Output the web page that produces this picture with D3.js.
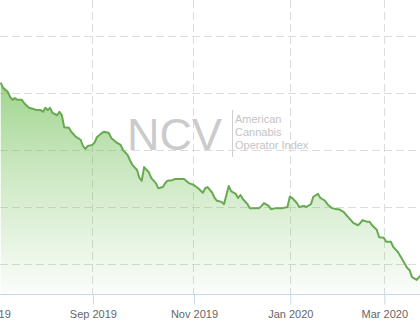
<!DOCTYPE html>
<html>
<head>
<meta charset="utf-8">
<script src="https://cdn.jsdelivr.net/npm/d3@7"></script>
<style>
  html, body { margin: 0; padding: 0; background: #fff; overflow: hidden; }
  svg { display: block; font-family: "Liberation Sans", Arial, sans-serif; }
</style>
</head>
<body>
<svg id="chart" width="420" height="322"></svg>
<script>
// Trading-day index (0 = first trading day of Jul 2019) and index value
const dayIndex = [5,6,8,9,10,11,12,14,15,17,19,20,22,23,24,25,26,27,29,30,31,32,34,35,37,39,40,41,42,44,45,46,48,49,51,52,54,56,57,59,60,61,63,64,65,66,68,69,71,72,74,75,76,78,79,81,83,85,87,89,91,92,93,95,96,97,99,100,102,103,105,106,107,108,110,111,113,115,116,117,119,120,122,123,125,127,128,129,131,132,134,135,137,138,140,141,143,144,146,148,149,151,152,154,155,157,158,159,161,162,163,165,166,168,169,171,172,174,175,176,178,179,180,182,183,184,185];
const values = [51.8,50.9,50.2,49.3,48.8,49.1,48.8,48.8,48.2,47.4,47.2,47.0,47.0,46.7,47.4,47.0,47.4,46.5,46.1,46.7,46.1,44.0,43.9,43.2,42.3,41.8,40.7,40.2,40.7,40.9,41.4,42.3,43.0,43.2,43.0,42.1,41.4,40.9,40.0,39.1,38.2,37.4,36.5,35.1,34.6,37.0,36.1,35.1,34.2,33.3,33.5,34.2,34.6,34.7,34.9,34.9,34.9,34.2,33.9,33.3,32.5,33.3,33.5,32.5,31.6,31.1,30.9,30.5,33.7,32.8,32.3,31.6,32.1,31.4,30.5,29.8,29.8,29.8,30.2,30.7,30.2,29.6,29.8,29.8,29.8,30.0,31.8,31.6,30.7,30.0,30.2,30.0,30.5,31.8,32.3,31.6,31.1,30.5,29.8,29.6,29.6,29.1,28.6,27.7,27.2,26.8,27.2,27.7,27.4,27.4,26.8,26.0,24.7,24.6,23.9,23.9,23.0,22.1,21.4,20.7,19.3,18.9,17.7,17.2,17.7,18.1,18.5];
// Month ticks (trading-day index of first trading day of month)
const tickIndex = [0, 44, 87, 128, 168];
const tickLabels = ["Jul 2019", "Sep 2019", "Nov 2019", "Jan 2020", "Mar 2020"];
const yGridValues = [20, 30, 40, 50, 60, 70];
const watermarkBig = "NCV";
const watermarkLines = ["American", "Cannabis", "Operator Index"];

const W = 420, H = 322;
const plotBottom = 294;
const svg = d3.select("#chart");

const x = d3.scaleLinear().domain([0, 183.4]).range([-11, W]);
const yMin = 14.74;
const y = d3.scaleLinear().domain([yMin, 60]).range([plotBottom, 36]);

const data = dayIndex.map((d, i) => ({ i: d, v: values[i] }));

const defs = svg.append("defs");
const grad = defs.append("linearGradient")
  .attr("id", "fillGrad")
  .attr("gradientUnits", "userSpaceOnUse")
  .attr("x1", 0).attr("x2", 0).attr("y1", 40).attr("y2", plotBottom);
grad.append("stop").attr("offset", 0).attr("stop-color", "#6cbd50").attr("stop-opacity", 0.78);
grad.append("stop").attr("offset", 0.5).attr("stop-color", "#6cbd50").attr("stop-opacity", 0.36);
grad.append("stop").attr("offset", 1).attr("stop-color", "#6cbd50").attr("stop-opacity", 0.03);

defs.append("clipPath").attr("id", "plotClip")
  .append("rect").attr("x", 0).attr("y", -200).attr("width", W).attr("height", plotBottom + 200);

// Horizontal gridlines
svg.append("g").selectAll("line").data(yGridValues).join("line")
  .attr("x1", 0).attr("x2", W)
  .attr("y1", d => Math.round(y(d)) + 0.5).attr("y2", d => Math.round(y(d)) + 0.5)
  .attr("stroke", "#dcdcdc").attr("stroke-width", 1)
  .attr("stroke-dasharray", "8,4");

// Vertical gridlines
svg.append("g").selectAll("line").data(tickIndex).join("line")
  .attr("x1", d => Math.round(x(d)) + 0.5).attr("x2", d => Math.round(x(d)) + 0.5)
  .attr("y1", 0).attr("y2", plotBottom)
  .attr("stroke", "#dcdcdc").attr("stroke-width", 1)
  .attr("stroke-dasharray", "8,4");

// Area + line
const area = d3.area().x(d => x(d.i)).y0(y(yMin)).y1(d => y(d.v));
const line = d3.line().x(d => x(d.i)).y(d => y(d.v));
const plot = svg.append("g").attr("clip-path", "url(#plotClip)");
plot.append("path").datum(data).attr("d", area).attr("fill", "url(#fillGrad)");
plot.append("path").datum(data).attr("d", line)
  .attr("fill", "none").attr("stroke", "#67aa52").attr("stroke-width", 2)
  .attr("stroke-linejoin", "round");

// Watermark
const wm = svg.append("g");
wm.append("text").attr("x", 127).attr("y", 150)
  .attr("font-size", 45).attr("fill", "#bdbdbd").attr("fill-opacity", 0.8)
  .attr("font-family", "Liberation Sans, Arial, sans-serif")
  .text(watermarkBig);
wm.append("line").attr("x1", 232.5).attr("x2", 232.5).attr("y1", 110).attr("y2", 157)
  .attr("stroke", "#cfcfcf").attr("stroke-width", 1);
wm.selectAll("text.sub").data(watermarkLines).join("text").attr("class", "sub")
  .attr("x", 235).attr("y", (d, i) => 123 + i * 13)
  .attr("font-size", 11).attr("fill", "#c4c4c4")
  .text(d => d);

// X axis
const axis = d3.axisBottom(x).tickValues(tickIndex)
  .tickFormat((d, i) => tickLabels[i]).tickSize(10).tickPadding(6).tickSizeOuter(0);
const gx = svg.append("g").attr("transform", `translate(0.5,${plotBottom + 0.5})`).call(axis);
gx.select(".domain").remove();
gx.append("line").attr("x1", -1).attr("x2", W).attr("y1", 0).attr("y2", 0)
  .attr("stroke", "#ccd6eb");
gx.selectAll(".tick line").attr("stroke", "#ccd6eb");
gx.selectAll(".tick text").attr("fill", "#666").attr("font-size", 11)
  .attr("font-family", "Liberation Sans, Arial, sans-serif");
</script>
</body>
</html>
